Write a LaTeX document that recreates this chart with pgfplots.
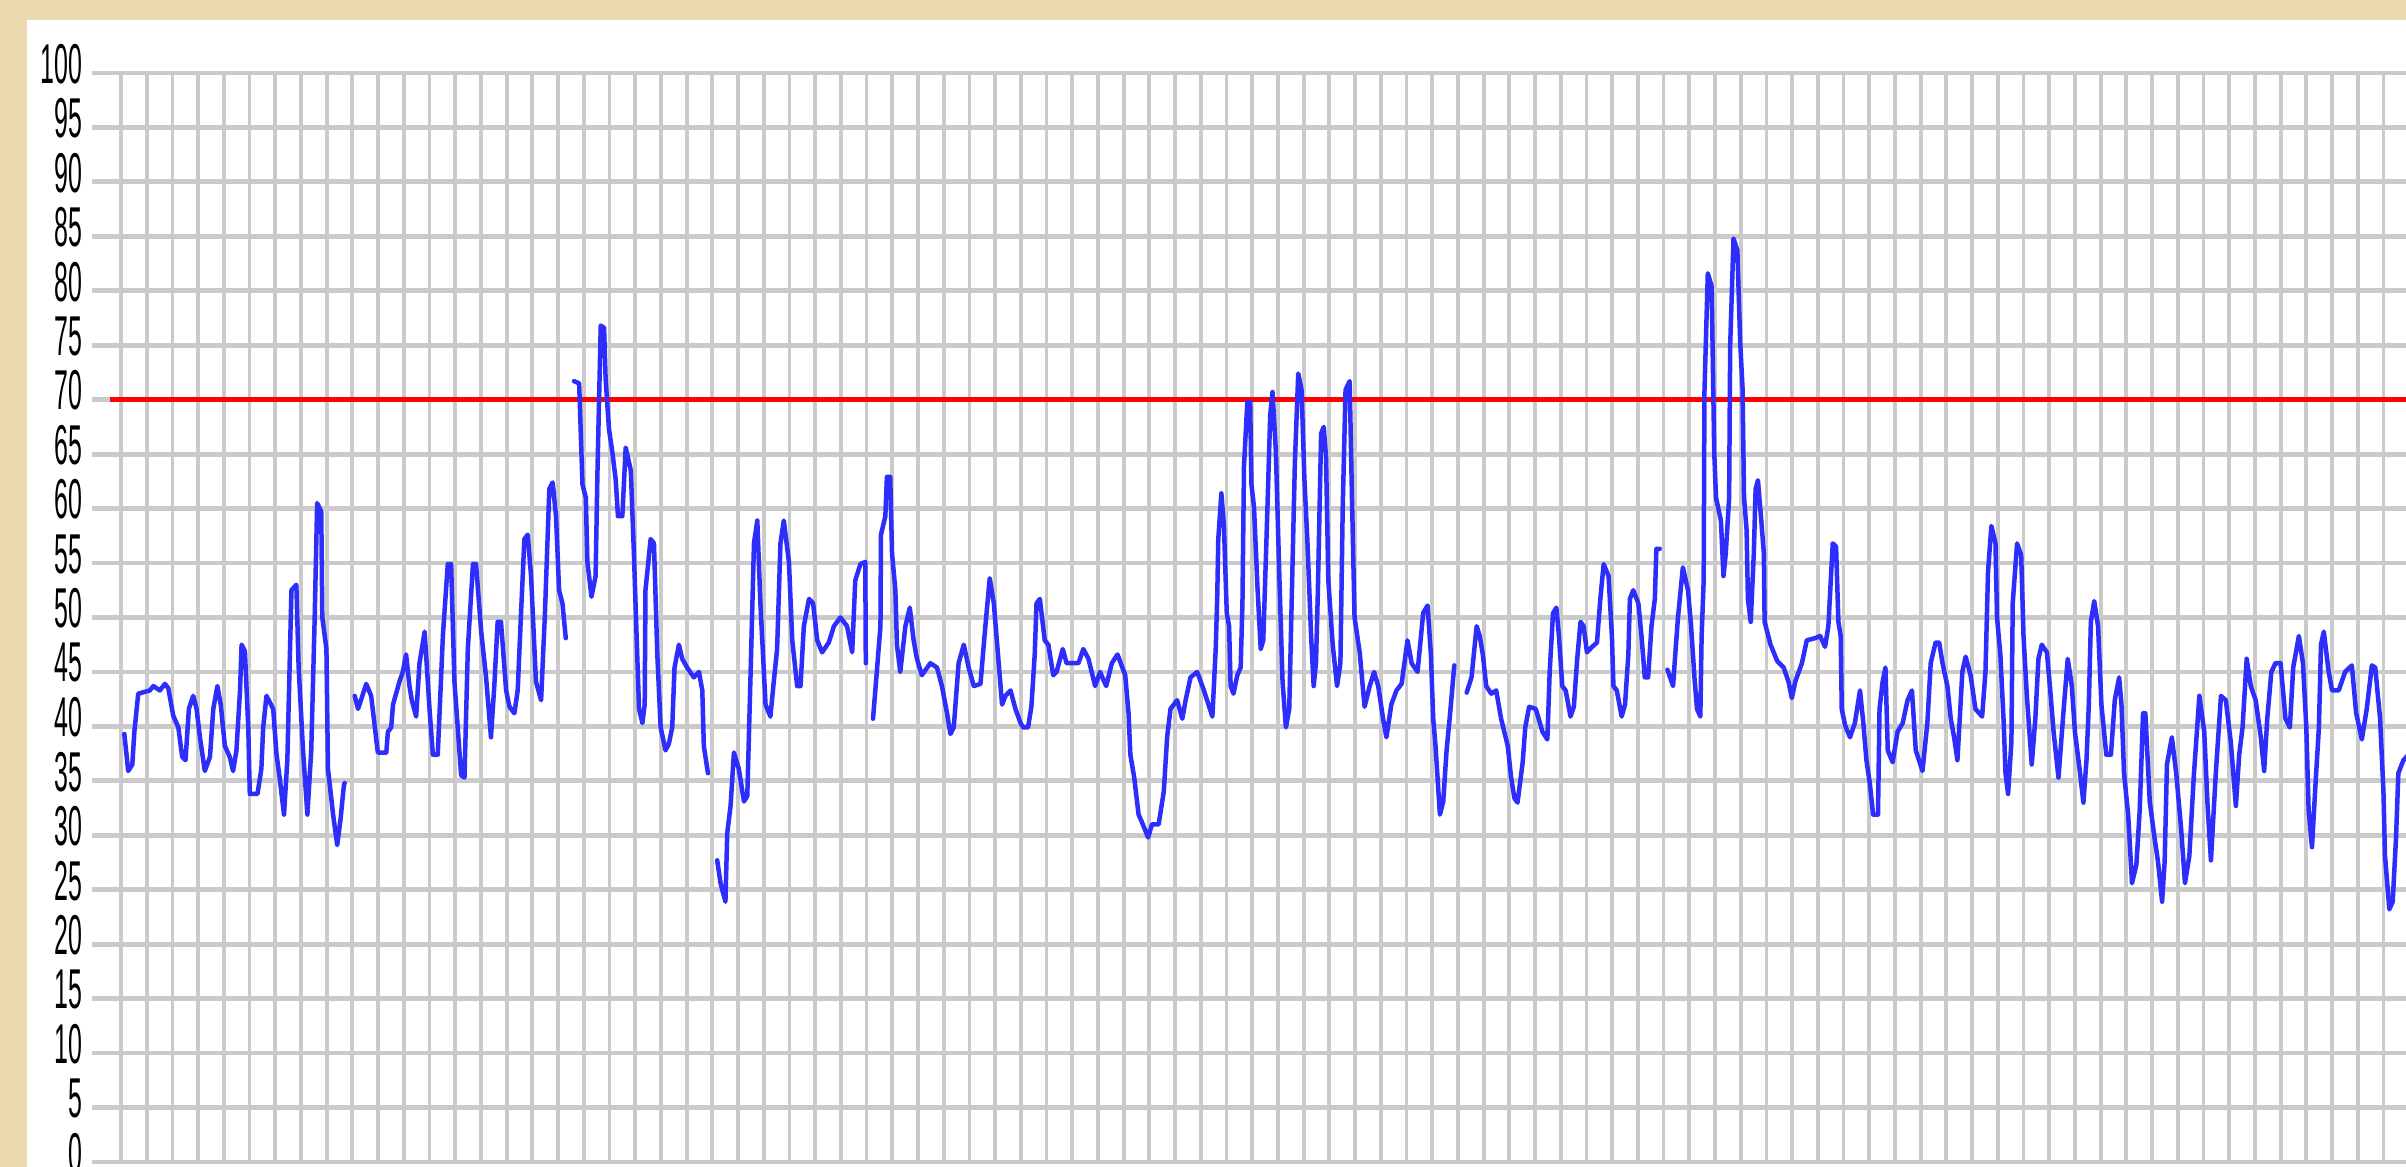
\documentclass[border=0pt]{standalone}
\usepackage{fontspec}
\setmainfont{Liberation Sans}
\usepackage{pgfplots}
\pgfplotsset{compat=1.18}
\definecolor{beige}{RGB}{234,217,174}
\definecolor{gridgray}{RGB}{202,202,202}
\definecolor{lineblue}{RGB}{45,45,252}
\begin{document}
\begin{tikzpicture}
\useasboundingbox (-0.92,-0.05) rectangle (23.14,11.62);
\clip (-0.92,-0.05) rectangle (23.14,11.62);
\fill[beige] (-0.92,-0.05) rectangle (23.14,11.62);
\fill[white] (-0.65,-1) rectangle (23.5,11.42);
\begin{axis}[
  at={(0,0)}, anchor=south west,
  x=0.2571cm, y=0.1089cm,
  xmin=-1.128, xmax=89.5, ymin=0, ymax=100,
  axis line style={draw=none},
  tick style={draw=none},
  major tick length=0pt,
  xtick={0,1,...,89},
  xticklabels={},
  ytick={0,5,...,100},
  xmajorgrids, ymajorgrids,
  x grid style={gridgray, line width=0.038cm},
  y grid style={gridgray, line width=0.048cm},
  /pgf/number format/assume math mode=true,
  yticklabel style={font=\fontsize{7.1}{8}\selectfont, text=black, anchor=east, inner sep=0pt, xshift=-0.09cm, yshift=0.09cm, yscale=2.25},
  unbounded coords=jump,
]
\addplot[red, line width=0.05cm] coordinates {(-0.43,70) (89.5,70)};
\addplot[lineblue, line width=0.045cm, line join=round, line cap=round] table {
x y
0.13 39.3
0.28 35.9
0.44 36.5
0.52 39.5
0.67 43.0
1.12 43.3
1.26 43.7
1.51 43.3
1.71 43.9
1.84 43.5
2.03 41.0
2.23 39.9
2.38 37.2
2.51 36.9
2.64 41.6
2.81 42.8
2.94 41.6
3.07 39.0
3.26 35.9
3.46 37.2
3.59 41.6
3.75 43.7
3.88 42.0
4.04 38.2
4.23 37.2
4.36 35.9
4.49 37.8
4.63 43.3
4.69 47.5
4.82 46.9
4.95 39.9
5.01 33.8
5.31 33.8
5.46 36.1
5.53 39.9
5.66 42.8
5.92 41.6
6.05 37.4
6.17 35.3
6.34 31.9
6.47 36.9
6.63 52.5
6.82 53.0
6.91 45.4
7.08 37.8
7.25 31.9
7.40 37.8
7.53 49.6
7.63 60.5
7.79 59.7
7.83 50.0
7.99 47.1
8.05 36.1
8.25 31.9
8.41 29.1
8.54 31.5
8.67 34.6
8.70 34.8
nan nan
9.09 42.8
9.22 41.6
9.54 43.9
9.73 42.8
9.99 37.6
10.32 37.6
10.38 39.5
10.51 39.9
10.58 42.0
10.83 44.1
10.96 45.0
11.09 46.6
11.22 43.7
11.31 42.4
11.48 40.9
11.61 45.8
11.81 48.7
12.00 41.6
12.13 37.4
12.32 37.4
12.52 48.3
12.71 54.9
12.84 54.9
12.97 44.1
13.23 35.5
13.36 35.3
13.49 47.1
13.69 54.9
13.81 54.9
14.01 48.7
14.20 44.5
14.39 39.0
14.52 43.7
14.65 49.6
14.78 49.6
14.98 43.3
15.11 41.8
15.30 41.2
15.43 43.3
15.56 50.4
15.69 57.2
15.82 57.6
15.95 53.8
16.14 44.1
16.34 42.4
16.49 50.4
16.66 61.8
16.79 62.4
16.92 59.3
17.04 52.5
17.17 51.3
17.30 48.1
nan nan
17.62 71.7
17.82 71.5
17.95 62.2
18.08 61.0
18.14 55.1
18.30 51.9
18.46 53.8
18.53 63.1
18.66 76.8
18.79 76.6
18.85 71.9
18.98 67.3
19.11 65.2
19.24 62.7
19.33 59.3
19.50 59.3
19.63 65.6
19.83 63.5
19.95 55.9
20.06 47.9
20.15 41.6
20.28 40.3
20.37 42.0
20.40 52.5
20.60 57.2
20.73 56.8
20.86 46.6
20.99 39.9
21.18 37.8
21.31 38.4
21.44 39.9
21.53 45.4
21.70 47.5
21.83 46.2
22.02 45.4
22.28 44.5
22.48 45.0
22.61 43.3
22.67 38.2
22.83 35.7
nan nan
23.19 27.7
23.32 25.6
23.51 23.9
23.58 30.2
23.71 32.7
23.84 37.6
24.03 36.1
24.23 33.1
24.36 33.6
24.49 45.0
24.62 56.8
24.75 58.9
24.87 51.3
25.07 42.0
25.26 40.9
25.39 44.1
25.52 47.1
25.65 56.8
25.78 58.9
25.98 55.1
26.11 47.9
26.30 43.7
26.43 43.7
26.56 49.2
26.76 51.7
26.92 51.3
27.08 47.9
27.27 46.8
27.53 47.7
27.73 49.2
27.98 50.0
28.24 49.2
28.44 46.8
28.56 53.4
28.76 54.9
28.95 55.1
28.97 45.8
nan nan
29.25 40.7
29.34 43.3
29.54 49.2
29.56 57.6
29.73 59.3
29.79 62.9
29.92 62.9
29.99 55.9
30.12 52.5
30.18 47.5
30.31 45.0
30.51 49.2
30.68 50.9
30.83 47.9
30.96 46.2
31.15 44.7
31.48 45.8
31.74 45.4
31.93 43.7
32.13 41.2
32.26 39.3
32.39 39.9
32.58 45.8
32.78 47.5
32.97 45.4
33.17 43.7
33.43 43.9
33.62 49.2
33.79 53.6
33.95 51.3
34.08 47.5
34.27 42.0
34.40 42.8
34.60 43.3
34.79 41.6
34.99 40.3
35.09 39.9
35.28 39.9
35.41 41.8
35.54 46.6
35.61 51.3
35.74 51.7
35.93 47.9
36.07 47.5
36.26 44.7
36.39 45.0
36.63 47.1
36.78 45.8
36.98 45.8
37.24 45.8
37.43 47.1
37.63 46.2
37.89 43.7
38.08 45.0
38.32 43.7
38.54 45.8
38.76 46.6
39.06 44.7
39.19 41.2
39.26 37.4
39.41 35.3
39.58 31.9
39.71 31.2
39.95 29.8
40.10 31.0
40.36 31.0
40.56 34.0
40.69 39.0
40.82 41.6
41.08 42.4
41.28 40.7
41.41 42.4
41.60 44.5
41.86 45.0
42.12 43.3
42.45 40.9
42.58 47.1
42.64 52.0
42.68 57.2
42.80 61.4
42.90 58.4
43.01 50.4
43.10 49.2
43.16 43.7
43.27 43.0
43.42 44.7
43.55 45.4
43.62 51.3
43.68 63.9
43.81 69.8
43.92 69.8
43.97 62.2
44.07 60.1
44.20 53.0
44.33 47.1
44.43 47.9
44.56 57.6
44.70 68.6
44.79 70.7
44.92 65.2
45.05 54.2
45.18 44.1
45.31 39.9
45.44 41.6
45.57 55.1
45.66 64.3
45.79 72.4
45.92 70.9
46.03 62.7
46.15 56.8
46.29 48.3
46.39 43.7
46.48 45.8
46.55 52.1
46.68 66.9
46.78 67.5
46.87 64.8
46.96 53.4
47.13 47.5
47.30 43.7
47.43 45.8
47.52 60.1
47.63 70.9
47.79 71.7
47.88 61.0
47.98 50.0
48.18 46.8
48.37 41.8
48.57 43.7
48.74 45.0
48.90 43.7
49.09 40.7
49.22 39.0
49.41 42.0
49.61 43.3
49.81 43.9
50.04 47.9
50.20 45.8
50.43 45.0
50.65 50.4
50.82 51.1
50.95 46.6
51.04 40.7
51.13 38.2
51.30 31.9
51.43 33.1
51.56 37.8
51.69 41.0
51.86 45.6
nan nan
52.34 43.1
52.53 44.5
52.73 49.2
52.85 48.3
52.97 46.6
53.10 43.7
53.30 43.0
53.49 43.3
53.68 40.7
53.94 38.2
54.07 35.3
54.20 33.4
54.32 33.0
54.52 36.7
54.62 39.9
54.77 41.8
55.03 41.6
55.29 39.5
55.48 38.8
55.57 45.0
55.70 50.4
55.83 50.9
55.93 48.3
56.06 43.7
56.19 43.3
56.38 40.9
56.51 41.8
56.64 46.2
56.77 49.6
56.89 49.2
57.02 46.8
57.22 47.3
57.41 47.7
57.54 51.7
57.67 54.9
57.86 53.8
57.99 48.3
58.05 43.7
58.18 43.3
58.37 40.9
58.50 42.0
58.63 46.6
58.69 51.7
58.82 52.5
59.02 51.3
59.14 48.3
59.27 44.5
59.40 44.5
59.53 49.2
59.66 51.7
59.72 56.3
59.85 56.3
nan nan
60.15 45.2
60.37 43.7
60.43 45.8
60.56 50.0
60.75 54.6
60.95 52.5
61.07 49.2
61.20 44.5
61.30 41.6
61.43 40.9
61.48 48.3
61.56 53.4
61.59 70.7
61.72 81.6
61.87 80.4
61.97 65.2
62.04 61.0
62.23 58.9
62.33 53.8
62.42 55.9
62.55 61.0
62.59 74.9
62.72 84.8
62.87 83.7
62.98 75.3
63.07 71.1
63.13 61.0
63.23 58.0
63.28 51.7
63.39 49.6
63.51 55.9
63.58 61.8
63.67 62.6
63.80 58.9
63.90 55.9
63.93 49.6
64.16 47.5
64.42 46.0
64.67 45.4
64.86 44.1
64.99 42.6
65.12 44.1
65.38 45.8
65.57 47.9
65.89 48.1
66.09 48.3
66.28 47.3
66.41 49.2
66.58 56.8
66.71 56.5
66.80 49.6
66.89 48.3
66.93 41.6
67.06 40.1
67.25 39.0
67.44 40.3
67.64 43.3
67.77 40.3
67.89 36.9
68.02 34.8
68.15 31.9
68.34 31.9
68.40 41.6
68.52 44.1
68.63 45.4
68.72 37.8
68.91 36.7
69.10 39.5
69.30 40.3
69.49 42.4
69.66 43.3
69.81 37.8
70.07 35.9
70.26 40.3
70.39 45.8
70.58 47.7
70.72 47.7
70.85 45.8
71.04 43.7
71.17 40.7
71.30 39.0
71.43 36.9
71.52 40.7
71.62 45.0
71.75 46.4
71.94 44.7
72.13 41.6
72.39 40.9
72.52 45.0
72.62 54.2
72.75 58.4
72.91 56.8
72.97 50.0
73.10 46.6
73.23 40.3
73.30 35.7
73.40 33.8
73.53 38.6
73.58 51.3
73.75 56.8
73.91 55.7
74.00 48.3
74.13 42.8
74.32 36.5
74.46 40.7
74.58 46.2
74.71 47.5
74.91 46.8
75.04 43.3
75.17 39.5
75.36 35.3
75.55 41.2
75.72 46.2
75.88 43.7
76.00 39.5
76.20 35.7
76.33 33.0
76.45 36.9
76.54 42.0
76.62 49.6
76.75 51.5
76.90 49.2
77.03 42.0
77.22 37.4
77.40 37.4
77.55 42.4
77.72 44.5
77.81 42.0
77.91 35.7
78.07 31.9
78.22 25.6
78.39 27.3
78.52 32.3
78.65 41.2
78.74 41.2
78.91 33.1
79.10 29.7
79.23 27.6
79.39 23.9
79.49 27.6
79.58 36.5
79.77 39.0
79.94 35.7
80.13 30.6
80.28 25.6
80.45 28.1
80.62 35.3
80.84 42.8
81.03 39.5
81.16 32.7
81.29 27.7
81.48 35.7
81.68 42.8
81.87 42.4
82.06 38.6
82.26 32.7
82.39 37.4
82.52 39.9
82.68 46.2
82.84 43.7
83.03 42.4
83.23 39.0
83.36 35.9
83.48 40.7
83.64 45.0
83.80 45.8
84.00 45.8
84.19 40.7
84.36 39.9
84.49 45.4
84.71 48.3
84.87 45.8
85.00 39.9
85.09 32.3
85.22 28.9
85.35 34.4
85.49 39.9
85.57 47.5
85.68 48.7
85.87 45.0
86.00 43.3
86.26 43.3
86.51 45.0
86.77 45.6
86.94 41.2
87.16 38.8
87.35 41.6
87.55 45.6
87.68 45.4
87.87 40.7
88.00 34.0
88.06 28.1
88.23 23.2
88.36 23.9
88.49 29.8
88.58 35.7
88.71 36.5
88.78 36.9
89.20 38.0
};
\end{axis}
\end{tikzpicture}
\end{document}
